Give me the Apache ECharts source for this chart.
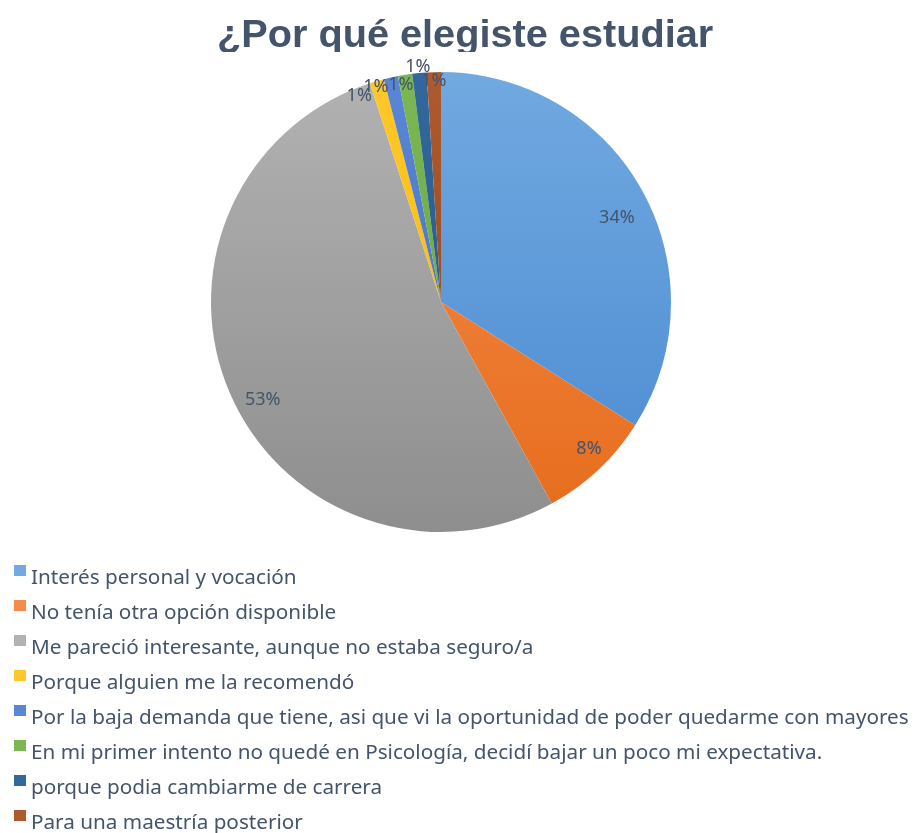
<!DOCTYPE html>
<html>
<head>
<meta charset="utf-8">
<script src="https://cdn.jsdelivr.net/npm/echarts@6/dist/echarts.min.js"></script>
<style>
  html, body { margin: 0; padding: 0; background: #fff; }
  #chart { width: 913px; height: 833px; }
</style>
</head>
<body>
<div id="chart"></div>
<script>
// categorias y valores (%)
const categories = [
  'Interés personal y vocación',
  'No tenía otra opción disponible',
  'Me pareció interesante, aunque no estaba seguro/a',
  'Porque alguien me la recomendó',
  'Por la baja demanda que tiene, asi que vi la oportunidad de poder quedarme con mayores',
  'En mi primer intento no quedé en Psicología, decidí bajar un poco mi expectativa.',
  'porque podia cambiarme de carrera',
  'Para una maestría posterior'
];
const values = [34, 8, 53, 1, 1, 1, 1, 1];

// colores (arriba / abajo del degradado)
const colorsTop = ['#71A9E0', '#F58C4C', '#B2B2B2', '#FFC82A', '#5A86D6', '#7BB853', '#33689D', '#AD5A31'];
const colorsBottom = ['#4A8AD2', '#E66C1C', '#8E8E8E', '#F5B400', '#3F6CC0', '#62A03A', '#1F5488', '#93410C'];

// desplazamiento de las etiquetas (como las deja Excel)
const bigLabelOffsets = [[-2, 14], [9, -1], [8, 17]];
const smallLabelOffsets = [[-19, 10], [-16, 4], [-5, 5], [-2, -11], [0, 4]];

const textColor = '#44546A';
const cx = 441, cy = 302, r = 230;

const grad = (i) => ({
  type: 'linear', x: 0, y: cy - r, x2: 0, y2: cy + r, global: true,
  colorStops: [{ offset: 0, color: colorsTop[i] }, { offset: 1, color: colorsBottom[i] }]
});

const chart = echarts.init(document.getElementById('chart'));

const labelStyle = {
  color: textColor,
  fontFamily: 'Noto Sans',
  fontSize: 18,
  formatter: '{d}%'
};

const option = {
  animation: false,
  title: {
    text: '¿Por qué elegiste estudiar',
    left: 212,
    top: 11,
    z: 0,
    textStyle: {
      fontFamily: 'Liberation Sans',
      fontWeight: 'bold',
      fontSize: 39.7,
      color: textColor
    }
  },
  // tapa la parte baja del título (como en el original)
  graphic: [{
    type: 'rect',
    z: 1,
    shape: { x: 180, y: 52, width: 580, height: 16 },
    style: { fill: '#fff' },
    silent: true
  }],
  legend: {
    orient: 'vertical',
    left: 14,
    top: 565,
    height: 300,
    padding: 0,
    itemWidth: 12,
    itemHeight: 27,
    itemGap: 8,
    // cuadrito alineado con la parte alta del texto
    icon: 'path://M0,0H12V11H0Z M0,27',
    textStyle: { color: textColor, fontFamily: 'Noto Sans', fontSize: 20.7, lineHeight: 21 },
    data: categories.map((name, i) => ({ name, itemStyle: { color: colorsTop[i] } }))
  },
  series: [
    {
      type: 'pie',
      z: 2,
      center: [cx, cy],
      radius: [0, r],
      startAngle: 90,
      avoidLabelOverlap: false,
      label: { show: false },
      labelLine: { show: false },
      itemStyle: { borderWidth: 0 },
      emphasis: { disabled: true },
      data: categories.map((name, i) => ({ name, value: values[i], itemStyle: { color: grad(i) } }))
    },
    {
      // etiquetas grandes
      type: 'pie',
      z: 3,
      silent: true,
      center: [cx, cy],
      radius: [170, r],
      startAngle: 90,
      avoidLabelOverlap: false,
      labelLayout: { hideOverlap: false },
      emphasis: { disabled: true },
      itemStyle: { color: 'rgba(0,0,0,0)' },
      label: Object.assign({ position: 'inside' }, labelStyle),
      labelLine: { show: false },
      data: categories.map((name, i) => ({
        name, value: values[i],
        label: i < 3 ? { show: true, offset: bigLabelOffsets[i] } : { show: false }
      }))
    },
    {
      // etiquetas pequeñas
      type: 'pie',
      z: 3,
      silent: true,
      center: [cx, cy],
      radius: [212, 232],
      startAngle: 90,
      avoidLabelOverlap: false,
      labelLayout: { hideOverlap: false },
      emphasis: { disabled: true },
      itemStyle: { color: 'rgba(0,0,0,0)' },
      label: Object.assign({ position: 'inside' }, labelStyle),
      labelLine: { show: false },
      data: categories.map((name, i) => ({
        name, value: values[i],
        label: i >= 3 ? { show: true, offset: smallLabelOffsets[i - 3] } : { show: false }
      }))
    }
  ]
};

chart.setOption(option);
window.addEventListener('resize', () => chart.resize());
</script>
</body>
</html>
